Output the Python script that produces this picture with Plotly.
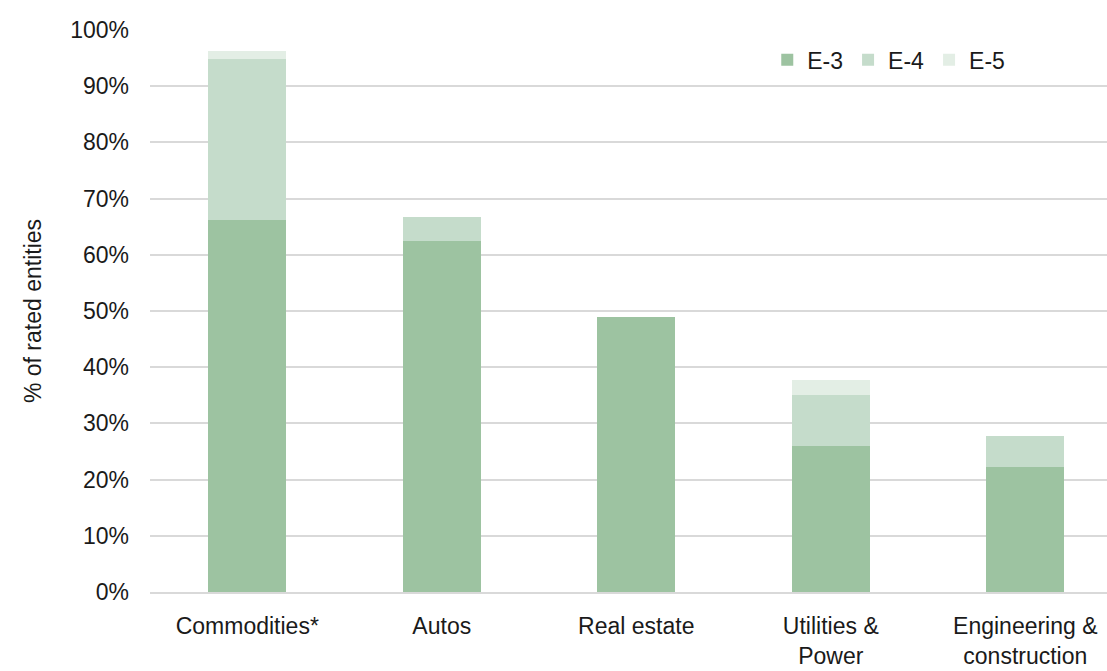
import plotly.graph_objects as go

categories = ["Commodities*", "Autos", "Real estate", "Utilities &<br>Power", "Engineering &<br>construction"]
e3 = [66.2, 62.5, 48.9, 26.0, 22.2]
e4 = [28.6, 4.2, 0.0, 9.1, 5.6]
e5 = [1.5, 0.0, 0.0, 2.6, 0.0]

colors = {"E-3": "#9dc3a1", "E-4": "#c5dccb", "E-5": "#e3eee5"}
font_family = "Liberation Sans, Arial, sans-serif"

fig = go.Figure()
for name, vals in [("E-3", e3), ("E-4", e4), ("E-5", e5)]:
    fig.add_trace(go.Bar(
        x=categories, y=vals, name=name,
        marker=dict(color=colors[name], line=dict(width=0)),
        width=0.4,
    ))

fig.update_layout(
    barmode="stack",
    width=1107, height=671,
    margin=dict(l=150, r=0, t=30, b=79),
    plot_bgcolor="white", paper_bgcolor="white",
    font=dict(family=font_family, size=23, color="#1a1a1a"),
    legend=dict(orientation="h", x=0.645, y=0.947, xanchor="left", yanchor="middle",
                font=dict(size=23), itemwidth=30, traceorder="normal",
                bgcolor="rgba(0,0,0,0)"),
    xaxis=dict(range=[-0.5, 4.42], showgrid=False, showline=True, linecolor="#d9d9d9",
               linewidth=2, ticks="", tickfont=dict(size=23), ticklabelstandoff=12),
    yaxis=dict(range=[0, 100], dtick=10, ticksuffix="%", showgrid=True,
               gridcolor="#d9d9d9", gridwidth=2, zeroline=False,
               title=dict(text="% of rated entities", font=dict(size=23), standoff=22),
               tickfont=dict(size=23), ticklabelstandoff=20),
)

fig.write_html("out.html")
